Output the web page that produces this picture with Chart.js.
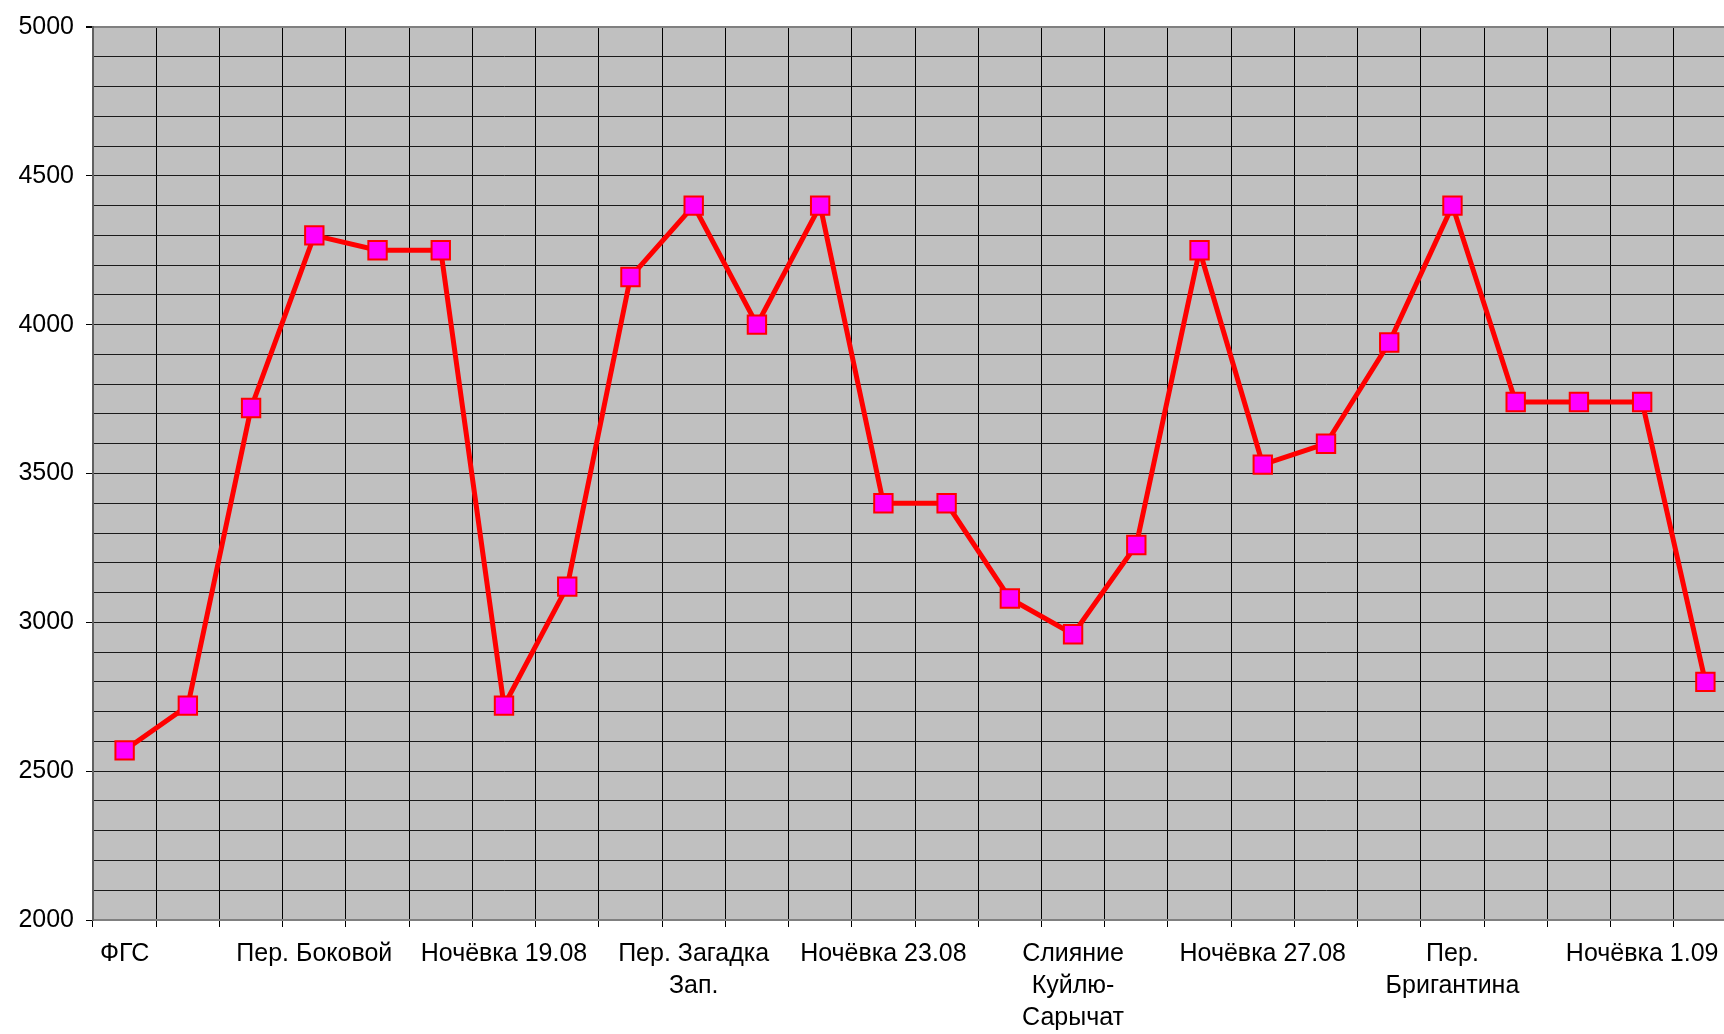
<!DOCTYPE html>
<html>
<head>
<meta charset="utf-8">
<script src="https://cdn.jsdelivr.net/npm/chart.js@4/dist/chart.umd.min.js"></script>
<style>
    html, body { margin: 0; padding: 0; background: #fff; overflow: hidden; }
    canvas { display: block; }
</style>
</head>
<body>
<!-- canvas is a bit wider than the window: the original plot is cut off at the right edge -->
<canvas id="altChart" width="1737" height="1034"></canvas>
<script>
// Route points (only every third one is named on the axis)
const categories = [
    "ФГС", "", "",
    "Пер. Боковой", "", "",
    "Ночёвка 19.08", "", "",
    ["Пер. Загадка", "Зап."], "", "",
    "Ночёвка 23.08", "", "",
    ["Слияние", "Куйлю-", "Сарычат"], "", "",
    "Ночёвка 27.08", "", "",
    ["Пер.", "Бригантина"], "", "",
    "Ночёвка 1.09", ""
];

const heights = [
    2570, 2720, 3720, 4300, 4250, 4250, 2720, 3120, 4160, 4400,
    4000, 4400, 3400, 3400, 3080, 2960, 3260, 4250, 3530, 3600,
    3940, 4400, 3740, 3740, 3740, 2800
];

const yLabels = [2000, 2500, 3000, 3500, 4000, 4500, 5000];

const plotBackground = {
    id: 'plotBackground',
    beforeDraw(chart) {
        const { ctx, chartArea } = chart;
        ctx.save();
        ctx.fillStyle = '#C0C0C0';
        ctx.fillRect(chartArea.left, chartArea.top, chartArea.right - chartArea.left, chartArea.bottom - chartArea.top);
        ctx.restore();
    }
};

const ctx = document.getElementById('altChart').getContext('2d');
new Chart(ctx, {
    type: 'line',
    data: {
        labels: categories,
        datasets: [{
            data: heights,
            borderColor: '#FF0000',
            borderWidth: 5,
            backgroundColor: '#FF00FF',
            pointStyle: 'rect',
            pointRadius: 13,
            pointBorderWidth: 2,
            pointBorderColor: '#FF0000',
            pointBackgroundColor: '#FF00FF',
            tension: 0
        }]
    },
    options: {
        responsive: false,
        animation: false,
        layout: { autoPadding: false, padding: { top: 24, right: 0, left: 0, bottom: 0 } },
        plugins: {
            legend: { display: false },
            tooltip: { enabled: false }
        },
        scales: {
            x: {
                offset: true,
                grid: {
                    offset: true,
                    color: '#000',
                    lineWidth: 1,
                    tickLength: 7,
                    tickColor: '#000'
                },
                border: { color: '#808080', width: 2 },
                ticks: {
                    autoSkip: false,
                    maxRotation: 0,
                    minRotation: 0,
                    padding: 11,
                    color: '#000',
                    font: { family: "'Liberation Sans', Arial, sans-serif", size: 25, lineHeight: 1.28 }
                },
                afterFit(scale) { scale.height = 114; }
            },
            y: {
                min: 2000,
                max: 5000,
                grid: {
                    color: ctx => ctx.tick && ctx.tick.value === 5000 ? '#808080' : '#1a1a1a',
                    lineWidth: ctx => ctx.tick && ctx.tick.value === 5000 ? 2 : 1,
                    tickLength: 7,
                    tickColor: ctx => ctx.tick && yLabels.includes(ctx.tick.value) ? '#000' : 'rgba(0,0,0,0)'
                },
                border: { color: '#606060', width: 2 },
                ticks: {
                    stepSize: 100,
                    autoSkip: false,
                    padding: 12,
                    color: '#000',
                    font: { family: "'Liberation Sans', Arial, sans-serif", size: 25 },
                    callback: value => yLabels.includes(value) ? String(value) : ''
                },
                afterFit(scale) { scale.width = 93; }
            }
        }
    },
    plugins: [plotBackground]
});
</script>
</body>
</html>
